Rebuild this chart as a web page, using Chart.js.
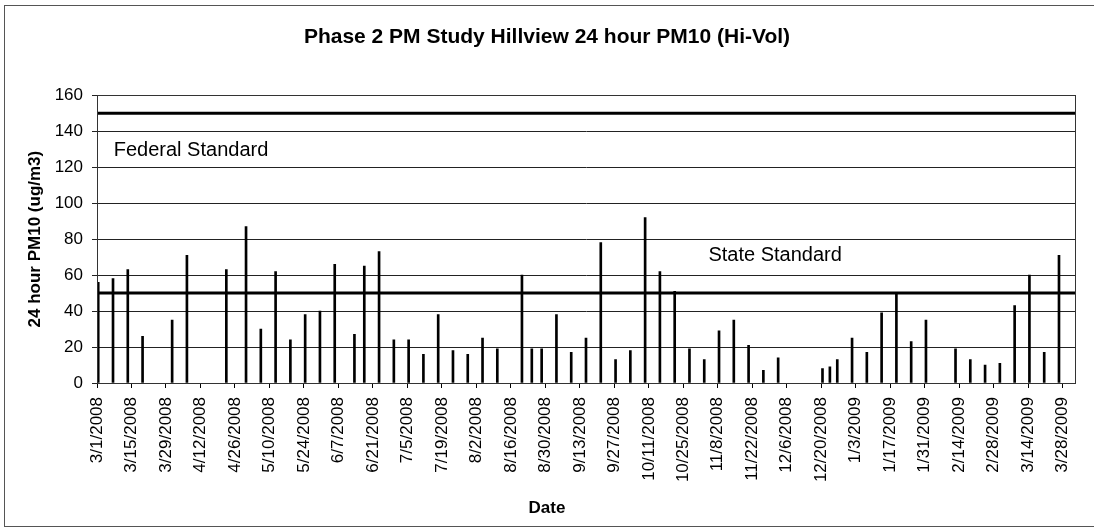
<!DOCTYPE html>
<html>
<head>
<meta charset="utf-8">
<title>Phase 2 PM Study Hillview 24 hour PM10 (Hi-Vol)</title>
<script src="https://cdn.jsdelivr.net/npm/chart.js@4/dist/chart.umd.min.js"></script>
<style>
  html, body { margin: 0; padding: 0; background: #fff; }
  canvas { display: block; }
</style>
</head>
<body>
<canvas id="pm10Chart" width="1094" height="531"></canvas>
<script>
// Sample dates (Hi-Vol, mostly 1-in-6 day schedule)
const sampleDates = [
  '3/1/2008', '3/7/2008', '3/13/2008', '3/19/2008', '3/31/2008', '4/6/2008',
  '4/22/2008', '4/30/2008', '5/6/2008', '5/12/2008', '5/18/2008', '5/24/2008',
  '5/30/2008', '6/5/2008', '6/13/2008', '6/17/2008', '6/23/2008', '6/29/2008',
  '7/5/2008', '7/11/2008', '7/17/2008', '7/23/2008', '7/29/2008', '8/4/2008',
  '8/10/2008', '8/20/2008', '8/24/2008', '8/28/2008', '9/3/2008', '9/9/2008',
  '9/15/2008', '9/21/2008', '9/27/2008', '10/3/2008', '10/9/2008', '10/15/2008',
  '10/21/2008', '10/27/2008', '11/2/2008', '11/8/2008', '11/14/2008', '11/20/2008',
  '11/26/2008', '12/2/2008', '12/20/2008', '12/23/2008', '12/26/2008', '1/1/2009',
  '1/7/2009', '1/13/2009', '1/19/2009', '1/25/2009', '1/31/2009', '2/12/2009',
  '2/18/2009', '2/24/2009', '3/2/2009', '3/8/2009', '3/14/2009', '3/20/2009',
  '3/26/2009'
];

// 24 hour PM10 (ug/m3)
const pm10Values = [
  56, 58, 63, 26, 35, 71,
  63, 87, 30, 62, 24, 38,
  40, 66, 27, 65, 73, 24,
  24, 16, 38, 18, 16, 25,
  19, 60, 19, 19, 38, 17,
  25, 78, 13, 18, 92, 62,
  51, 19, 13, 29, 35, 21,
  7, 14, 8, 9, 13, 25,
  17, 39, 50, 23, 35, 19,
  13, 10, 11, 43, 60, 17,
  71
];

// Standards (ug/m3)
const federalStandard = 150;
const stateStandard = 50;

// X axis tick labels (every 14 days)
const xTickLabels = [
  '3/1/2008', '3/15/2008', '3/29/2008', '4/12/2008', '4/26/2008', '5/10/2008',
  '5/24/2008', '6/7/2008', '6/21/2008', '7/5/2008', '7/19/2008', '8/2/2008',
  '8/16/2008', '8/30/2008', '9/13/2008', '9/27/2008', '10/11/2008', '10/25/2008',
  '11/8/2008', '11/22/2008', '12/6/2008', '12/20/2008', '1/3/2009', '1/17/2009',
  '1/31/2009', '2/14/2009', '2/28/2009', '3/14/2009', '3/28/2009'
];

const yTicks = [0, 20, 40, 60, 80, 100, 120, 140, 160];

const FONT = 'Arial, "Liberation Sans", sans-serif';
const AXIS_START = '3/1/2008';
const AXIS_DAYS = 397;

// Days since the start of the axis
function dayIndex(dateStr) {
  const [m, d, y] = dateStr.split('/').map(Number);
  const [m0, d0, y0] = AXIS_START.split('/').map(Number);
  return Math.round((Date.UTC(y, m - 1, d) - Date.UTC(y0, m0 - 1, d0)) / 86400000);
}

const tickLabelByDay = {};
xTickLabels.forEach(label => { tickLabelByDay[dayIndex(label)] = label; });

// Bars sit in the middle of their day
const barPoints = sampleDates.map((date, i) => ({ x: dayIndex(date) + 0.5, y: pm10Values[i] }));

function standardLine(value) {
  return [{ x: 0, y: value }, { x: AXIS_DAYS, y: value }];
}

// Text labels for the two standard lines, x title, and frames
const annotationPlugin = {
  id: 'standardsAndFrames',
  afterDatasetsDraw(chart) {
    const { ctx, chartArea, scales } = chart;
    ctx.save();
    ctx.fillStyle = '#000';
    ctx.font = '20px ' + FONT;
    ctx.textBaseline = 'middle';
    ctx.textAlign = 'left';
    ctx.fillText('Federal Standard', scales.x.getPixelForValue(6.8), scales.y.getPixelForValue(129));
    ctx.fillText('State Standard', scales.x.getPixelForValue(248.2), scales.y.getPixelForValue(71));

    // x axis title, centred on the whole chart like the original
    ctx.font = 'bold 17px ' + FONT;
    ctx.textAlign = 'center';
    ctx.fillText('Date', chart.width / 2, 508);

    // plot area border
    ctx.strokeStyle = '#333';
    ctx.lineWidth = 1;
    ctx.strokeRect(Math.round(chartArea.left) + 0.5, Math.round(chartArea.top) + 0.5,
      Math.round(chartArea.right - chartArea.left), Math.round(chartArea.bottom - chartArea.top));

    // outer chart frame
    ctx.strokeStyle = '#555';
    ctx.strokeRect(4.5, 5.5, chart.width + 10, chart.height - 10);
    ctx.restore();
  }
};

const chartConfig = {
  type: 'bar',
  data: {
    datasets: [
      {
        type: 'line',
        label: 'Federal Standard',
        data: standardLine(federalStandard),
        borderColor: '#000',
        borderWidth: 3,
        pointRadius: 0,
        order: 0
      },
      {
        type: 'line',
        label: 'State Standard',
        data: standardLine(stateStandard),
        borderColor: '#000',
        borderWidth: 3,
        pointRadius: 0,
        order: 0
      },
      {
        label: '24 hour PM10',
        data: barPoints,
        backgroundColor: '#000',
        borderWidth: 0,
        barThickness: 2,
        order: 1
      }
    ]
  },
  options: {
    responsive: false,
    animation: false,
    devicePixelRatio: 1,
    layout: { padding: 0 },
    plugins: {
      legend: { display: false },
      tooltip: { enabled: false },
      title: {
        display: true,
        text: 'Phase 2 PM Study Hillview 24 hour PM10 (Hi-Vol)',
        color: '#000',
        font: { family: FONT, size: 21, weight: 'bold' },
        padding: { top: 25, bottom: 45 }
      }
    },
    scales: {
      x: {
        type: 'linear',
        offset: false,
        min: 0,
        max: AXIS_DAYS,
        afterFit: scale => { scale.height = 148; },
        afterBuildTicks: scale => {
          scale.ticks = xTickLabels.map(label => ({ value: dayIndex(label) }));
        },
        grid: { offset: false, drawOnChartArea: false, drawTicks: true, tickLength: 5, color: '#000' },
        border: { color: '#000', width: 1 },
        ticks: {
          autoSkip: false,
          maxRotation: 90,
          minRotation: 90,
          padding: 9,
          color: '#000',
          font: { family: FONT, size: 17 },
          callback: value => tickLabelByDay[value] || ''
        },
        title: { display: false }
      },
      y: {
        min: 0,
        max: 160,
        afterFit: scale => { scale.width = 97; },
        afterBuildTicks: scale => {
          scale.ticks = yTicks.map(v => ({ value: v }));
        },
        grid: { color: '#222', lineWidth: 1, tickLength: 5 },
        border: { color: '#000', width: 1 },
        ticks: {
          padding: 9,
          color: '#000',
          font: { family: FONT, size: 17 }
        },
        title: {
          display: true,
          text: '24 hour PM10 (ug/m3)',
          color: '#000',
          font: { family: FONT, size: 17, weight: 'bold' },
          padding: { top: 25, bottom: 0 }
        }
      },
      // empty right-hand axis, only reserves the right margin
      yRight: {
        position: 'right',
        min: 0,
        max: 160,
        afterFit: scale => { scale.width = 19; },
        grid: { display: false },
        border: { display: false },
        ticks: { display: false }
      }
    }
  },
  plugins: [annotationPlugin]
};

new Chart(document.getElementById('pm10Chart'), chartConfig);
</script>
</body>
</html>
